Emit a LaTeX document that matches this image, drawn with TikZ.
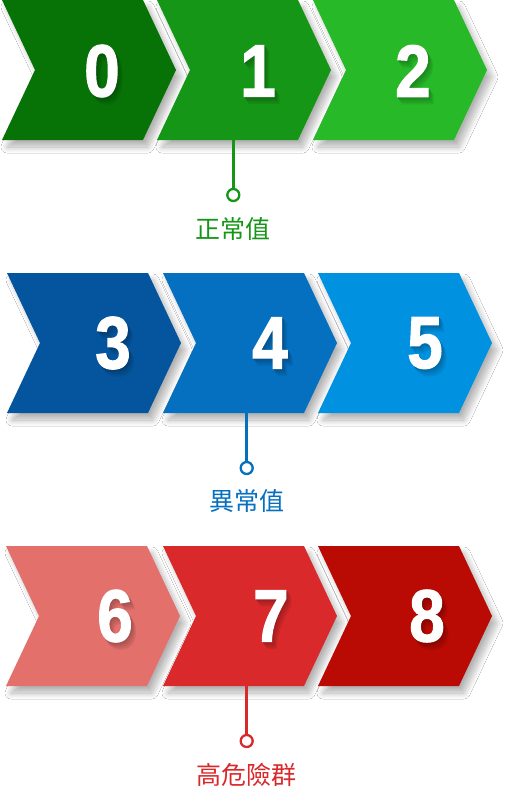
\documentclass[tikz,border=0pt]{standalone}
\usepackage{fontspec}
\setmainfont{Liberation Sans}
\newfontfamily\digitfont{Liberation Sans}[BoldFeatures={FakeBold=1.6,FakeStretch=0.86}]
\newfontfamily\cjk{Noto Sans CJK TC}
\usetikzlibrary{shadows.blur}
\definecolor{cA}{HTML}{077307}
\definecolor{cB}{HTML}{169617}
\definecolor{cC}{HTML}{27B928}
\definecolor{cD}{HTML}{04559E}
\definecolor{cE}{HTML}{0570C0}
\definecolor{cF}{HTML}{0091E1}
\definecolor{cG}{HTML}{E4706C}
\definecolor{cH}{HTML}{D9292B}
\definecolor{cI}{HTML}{B90A03}
\tikzset{
  chevshape/.style={blur shadow={shadow xshift=5pt,shadow yshift=-7pt,shadow blur radius=6pt,shadow blur steps=12,shadow opacity=30}},
  digit/.style={inner sep=0pt,text=white,font=\digitfont\fontsize{74}{74}\selectfont\bfseries},
  ring/.style={circle,line width=2.3pt,minimum size=12pt,inner sep=0pt},
  stem/.style={line width=2.5pt},
  lbl/.style={inner sep=0pt,font=\cjk\fontsize{25}{25}\selectfont}
}
\newcommand{\dsh}[4]{\makebox[0pt][l]{\smash{\kern#1pt\raisebox{-#2pt}{\textcolor{#3}{#4}}}}}
\newcommand{\mydigit}[5]{%
  \node[digit] (#1) at (#2,#3) {\dsh{5}{7}{#5!93!black}{#4}\dsh{4}{5.5}{#5!88!black}{#4}\dsh{3}{4}{#5!83!black}{#4}\dsh{2}{2.5}{#5!78!black}{#4}\dsh{1}{1.2}{#5!74!black}{#4}#4};
}
\begin{document}
\begin{tikzpicture}[x=1pt,y=-1pt]
\useasboundingbox (0,0) rectangle (508,787);
\fill[white] (0,0) rectangle (508,787);
% row 1
\fill[chevshape,cA] (2,0) -- ++(141,0) -- ++(33,70) -- ++(-33,70) -- ++(-141,0) -- ++(33,-70) -- cycle;
\fill[chevshape,cB] (157,0) -- ++(141,0) -- ++(33,70) -- ++(-33,70) -- ++(-141,0) -- ++(33,-70) -- cycle;
\fill[chevshape,cC] (313,0) -- ++(141,0) -- ++(33,70) -- ++(-33,70) -- ++(-141,0) -- ++(33,-70) -- cycle;
\mydigit{n0}{102}{71}{0}{cA}
\mydigit{n1}{258}{71}{1}{cB}
\mydigit{n2}{413}{71}{2}{cC}
% row 2
\fill[chevshape,cD] (7,273) -- ++(141,0) -- ++(33,70) -- ++(-33,70) -- ++(-141,0) -- ++(33,-70) -- cycle;
\fill[chevshape,cE] (163,273) -- ++(141,0) -- ++(33,70) -- ++(-33,70) -- ++(-141,0) -- ++(33,-70) -- cycle;
\fill[chevshape,cF] (318,273) -- ++(141,0) -- ++(33,70) -- ++(-33,70) -- ++(-141,0) -- ++(33,-70) -- cycle;
\mydigit{n3}{113}{343}{3}{cD}
\mydigit{n4}{270}{343}{4}{cE}
\mydigit{n5}{425}{343}{5}{cF}
% row 3
\fill[chevshape,cG] (6,546) -- ++(141,0) -- ++(33,70) -- ++(-33,70) -- ++(-141,0) -- ++(33,-70) -- cycle;
\fill[chevshape,cH] (163,546) -- ++(141,0) -- ++(33,70) -- ++(-33,70) -- ++(-141,0) -- ++(33,-70) -- cycle;
\fill[chevshape,cI] (318,546) -- ++(141,0) -- ++(33,70) -- ++(-33,70) -- ++(-141,0) -- ++(33,-70) -- cycle;
\mydigit{n6}{115}{616}{6}{cG}
\mydigit{n7}{271}{616}{7}{cH}
\mydigit{n8}{427}{616}{8}{cI}
% connectors
\coordinate (s1) at (233.3,140);
\node[ring,draw=cB,fill=white] (r1) at (233.3,195) {};
\draw[stem,cB] (s1) -- (r1.north);
\node[lbl,text=cB] (l1) at (233.3,229) {正常值};
\coordinate (s2) at (246.7,413);
\node[ring,draw=cE,fill=white] (r2) at (246.7,468) {};
\draw[stem,cE] (s2) -- (r2.north);
\node[lbl,text=cE] (l2) at (246.7,501) {異常值};
\coordinate (s3) at (246.7,686);
\node[ring,draw=cH,fill=white] (r3) at (246.7,741) {};
\draw[stem,cH] (s3) -- (r3.north);
\node[lbl,text=cH] (l3) at (246.7,775) {高危險群};
\end{tikzpicture}
\end{document}
